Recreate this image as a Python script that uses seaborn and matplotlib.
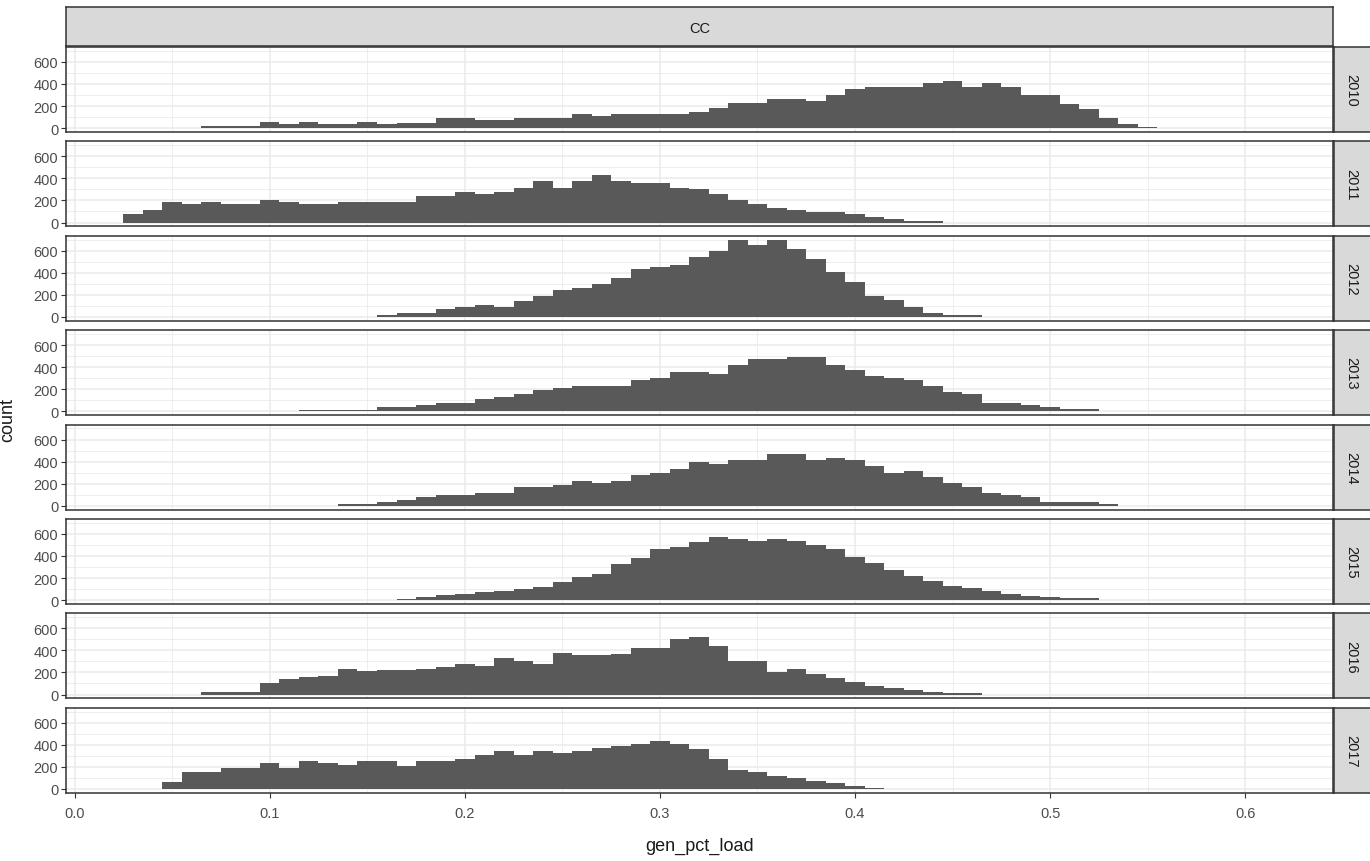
import numpy as np
import pandas as pd
import seaborn as sns
import matplotlib.pyplot as plt
from matplotlib.ticker import MultipleLocator

# bin width 0.01, bins centred on multiples of 0.01
years = ["2010", "2011", "2012", "2013", "2014", "2015", "2016", "2017"]
first_bin = {"2010": 0.07, "2011": 0.03, "2012": 0.16, "2013": 0.12,
             "2014": 0.14, "2015": 0.17, "2016": 0.07, "2017": 0.05}

counts_2010 = [15, 15, 15, 55, 35, 55, 35, 35, 55, 35, 50, 50, 90, 90, 75, 75,
               90, 90, 90, 128, 110, 128, 128, 128, 128, 146, 184, 225, 225, 262,
               262, 244, 300, 356, 375, 375, 375, 410, 431, 375, 412, 375, 297,
               297, 222, 169, 90, 34, 12]
counts_2011 = [75, 112, 187, 168, 187, 168, 168, 205, 187, 168, 168, 187, 187,
               187, 187, 243, 243, 280, 262, 280, 317, 373, 317, 373, 432, 373,
               355, 355, 317, 300, 262, 206, 168, 131, 112, 94, 94, 75, 53, 34,
               12, 12]
counts_2012 = [15, 34, 34, 75, 94, 112, 94, 146, 187, 243, 262, 300, 355, 432,
               450, 470, 544, 600, 693, 656, 693, 619, 525, 410, 317, 187, 150,
               94, 37, 15, 15]
counts_2013 = [16, 16, 16, 16, 37, 37, 59, 78, 78, 116, 134, 153, 190, 209, 228,
               228, 228, 284, 303, 360, 360, 340, 419, 475, 475, 494, 494, 419,
               378, 322, 303, 284, 228, 172, 153, 78, 78, 59, 37, 19, 19]
counts_2014 = [16, 16, 34, 56, 75, 94, 94, 112, 112, 169, 169, 187, 225, 206,
               225, 281, 300, 337, 394, 375, 415, 415, 472, 472, 415, 434, 415,
               356, 300, 319, 262, 206, 169, 112, 94, 75, 34, 34, 34, 16]
counts_2015 = [10, 25, 45, 60, 75, 80, 100, 120, 160, 210, 240, 330, 380, 460,
               480, 530, 570, 550, 540, 550, 540, 500, 460, 390, 340, 270, 220,
               170, 130, 110, 80, 60, 40, 25, 15, 15]
counts_2016 = [20, 20, 20, 100, 140, 160, 170, 230, 210, 220, 220, 230, 250,
               280, 260, 330, 300, 280, 380, 360, 360, 370, 420, 420, 500, 520,
               440, 300, 300, 200, 230, 190, 150, 110, 80, 60, 40, 20, 10, 10]
counts_2017 = [62, 156, 156, 194, 194, 234, 194, 253, 234, 216, 253, 253, 212,
               253, 253, 272, 309, 347, 309, 347, 328, 347, 369, 387, 406, 437,
               406, 366, 269, 175, 156, 119, 100, 75, 50, 30, 12]

counts = {"2010": counts_2010, "2011": counts_2011, "2012": counts_2012,
          "2013": counts_2013, "2014": counts_2014, "2015": counts_2015,
          "2016": counts_2016, "2017": counts_2017}

rows = []
for yr in years:
    for k, c in enumerate(counts[yr]):
        rows.append({"year": yr, "gen_pct_load": round(first_bin[yr] + 0.01 * k, 2), "n": c})
df = pd.DataFrame(rows)

W, H = 1370, 862
plt.rcParams['font.family'] = ['Liberation Sans', 'DejaVu Sans']
fig = plt.figure(figsize=(W / 100, H / 100), dpi=100)

def fbox(x0, y0, x1, y1):
    # pixel box -> figure fraction
    return [x0 / W, 1 - y1 / H, (x1 - x0) / W, (y1 - y0) / H]

left, right = 66, 1333
border = '#333333'
grid = '#ebebeb'
tick_fs = 10.5

# top strip
sax = fig.add_axes(fbox(left, 8, right, 47))
sax.set_facecolor('#d9d9d9')
sax.set_xticks([]); sax.set_yticks([])
for s in sax.spines.values():
    s.set_color(border); s.set_linewidth(1.1)
sax.text(0.5, 0.45, "CC", transform=sax.transAxes, ha='center', va='center',
         fontsize=tick_fs, color='#1a1a1a')

for i, yr in enumerate(years):
    top = 48 + 94.4 * i
    bot = top + 85
    ax = fig.add_axes(fbox(left, top, right, bot))
    sub = df[df["year"] == yr]
    sns.histplot(data=sub, x="gen_pct_load", weights="n", binwidth=0.01,
                 binrange=(0.005, 0.615), ax=ax, color='#595959', alpha=1,
                 linewidth=0)
    ax.set_xlim(-0.0044, 0.645)
    ax.set_ylim(-35, 735)
    ax.xaxis.set_major_locator(MultipleLocator(0.1))
    ax.xaxis.set_minor_locator(MultipleLocator(0.05))
    ax.yaxis.set_major_locator(MultipleLocator(200))
    ax.yaxis.set_minor_locator(MultipleLocator(100))
    ax.grid(True, which='major', color=grid, linewidth=1.1)
    ax.grid(True, which='minor', color=grid, linewidth=0.6)
    ax.set_axisbelow(True)
    ax.set_xlabel(""); ax.set_ylabel("")
    for s in ax.spines.values():
        s.set_color(border); s.set_linewidth(1.1)
    ax.tick_params(which='minor', length=0)
    ax.tick_params(axis='y', which='major', length=3.5, color=border,
                   labelsize=tick_fs, labelcolor='#4d4d4d', pad=2)
    if i == len(years) - 1:
        ax.tick_params(axis='x', which='major', length=3.5, color=border,
                       labelsize=tick_fs, labelcolor='#4d4d4d', pad=6)
        ax.set_xticks(np.arange(0, 0.61, 0.1))
        ax.set_xticklabels([f"{v:.1f}" for v in np.arange(0, 0.61, 0.1)])
    else:
        ax.tick_params(axis='x', which='major', length=0, labelbottom=False)

    # right strip
    rax = fig.add_axes(fbox(right + 1, top, right + 40, bot))
    rax.set_facecolor('#d9d9d9')
    rax.set_xticks([]); rax.set_yticks([])
    for s in rax.spines.values():
        s.set_color(border); s.set_linewidth(1.1)
    rax.text(0.45, 0.5, yr, transform=rax.transAxes, rotation=-90, ha='center',
             va='center', fontsize=tick_fs, color='#1a1a1a')

fig.text(700 / W, 1 - 846 / H, "gen_pct_load", ha='center', va='center',
         fontsize=13, color='#1a1a1a')
fig.text(8 / W, 1 - 420 / H, "count", ha='center', va='center', rotation=90,
         fontsize=13, color='#1a1a1a')

fig.savefig("out.png", dpi=100, facecolor='white')
